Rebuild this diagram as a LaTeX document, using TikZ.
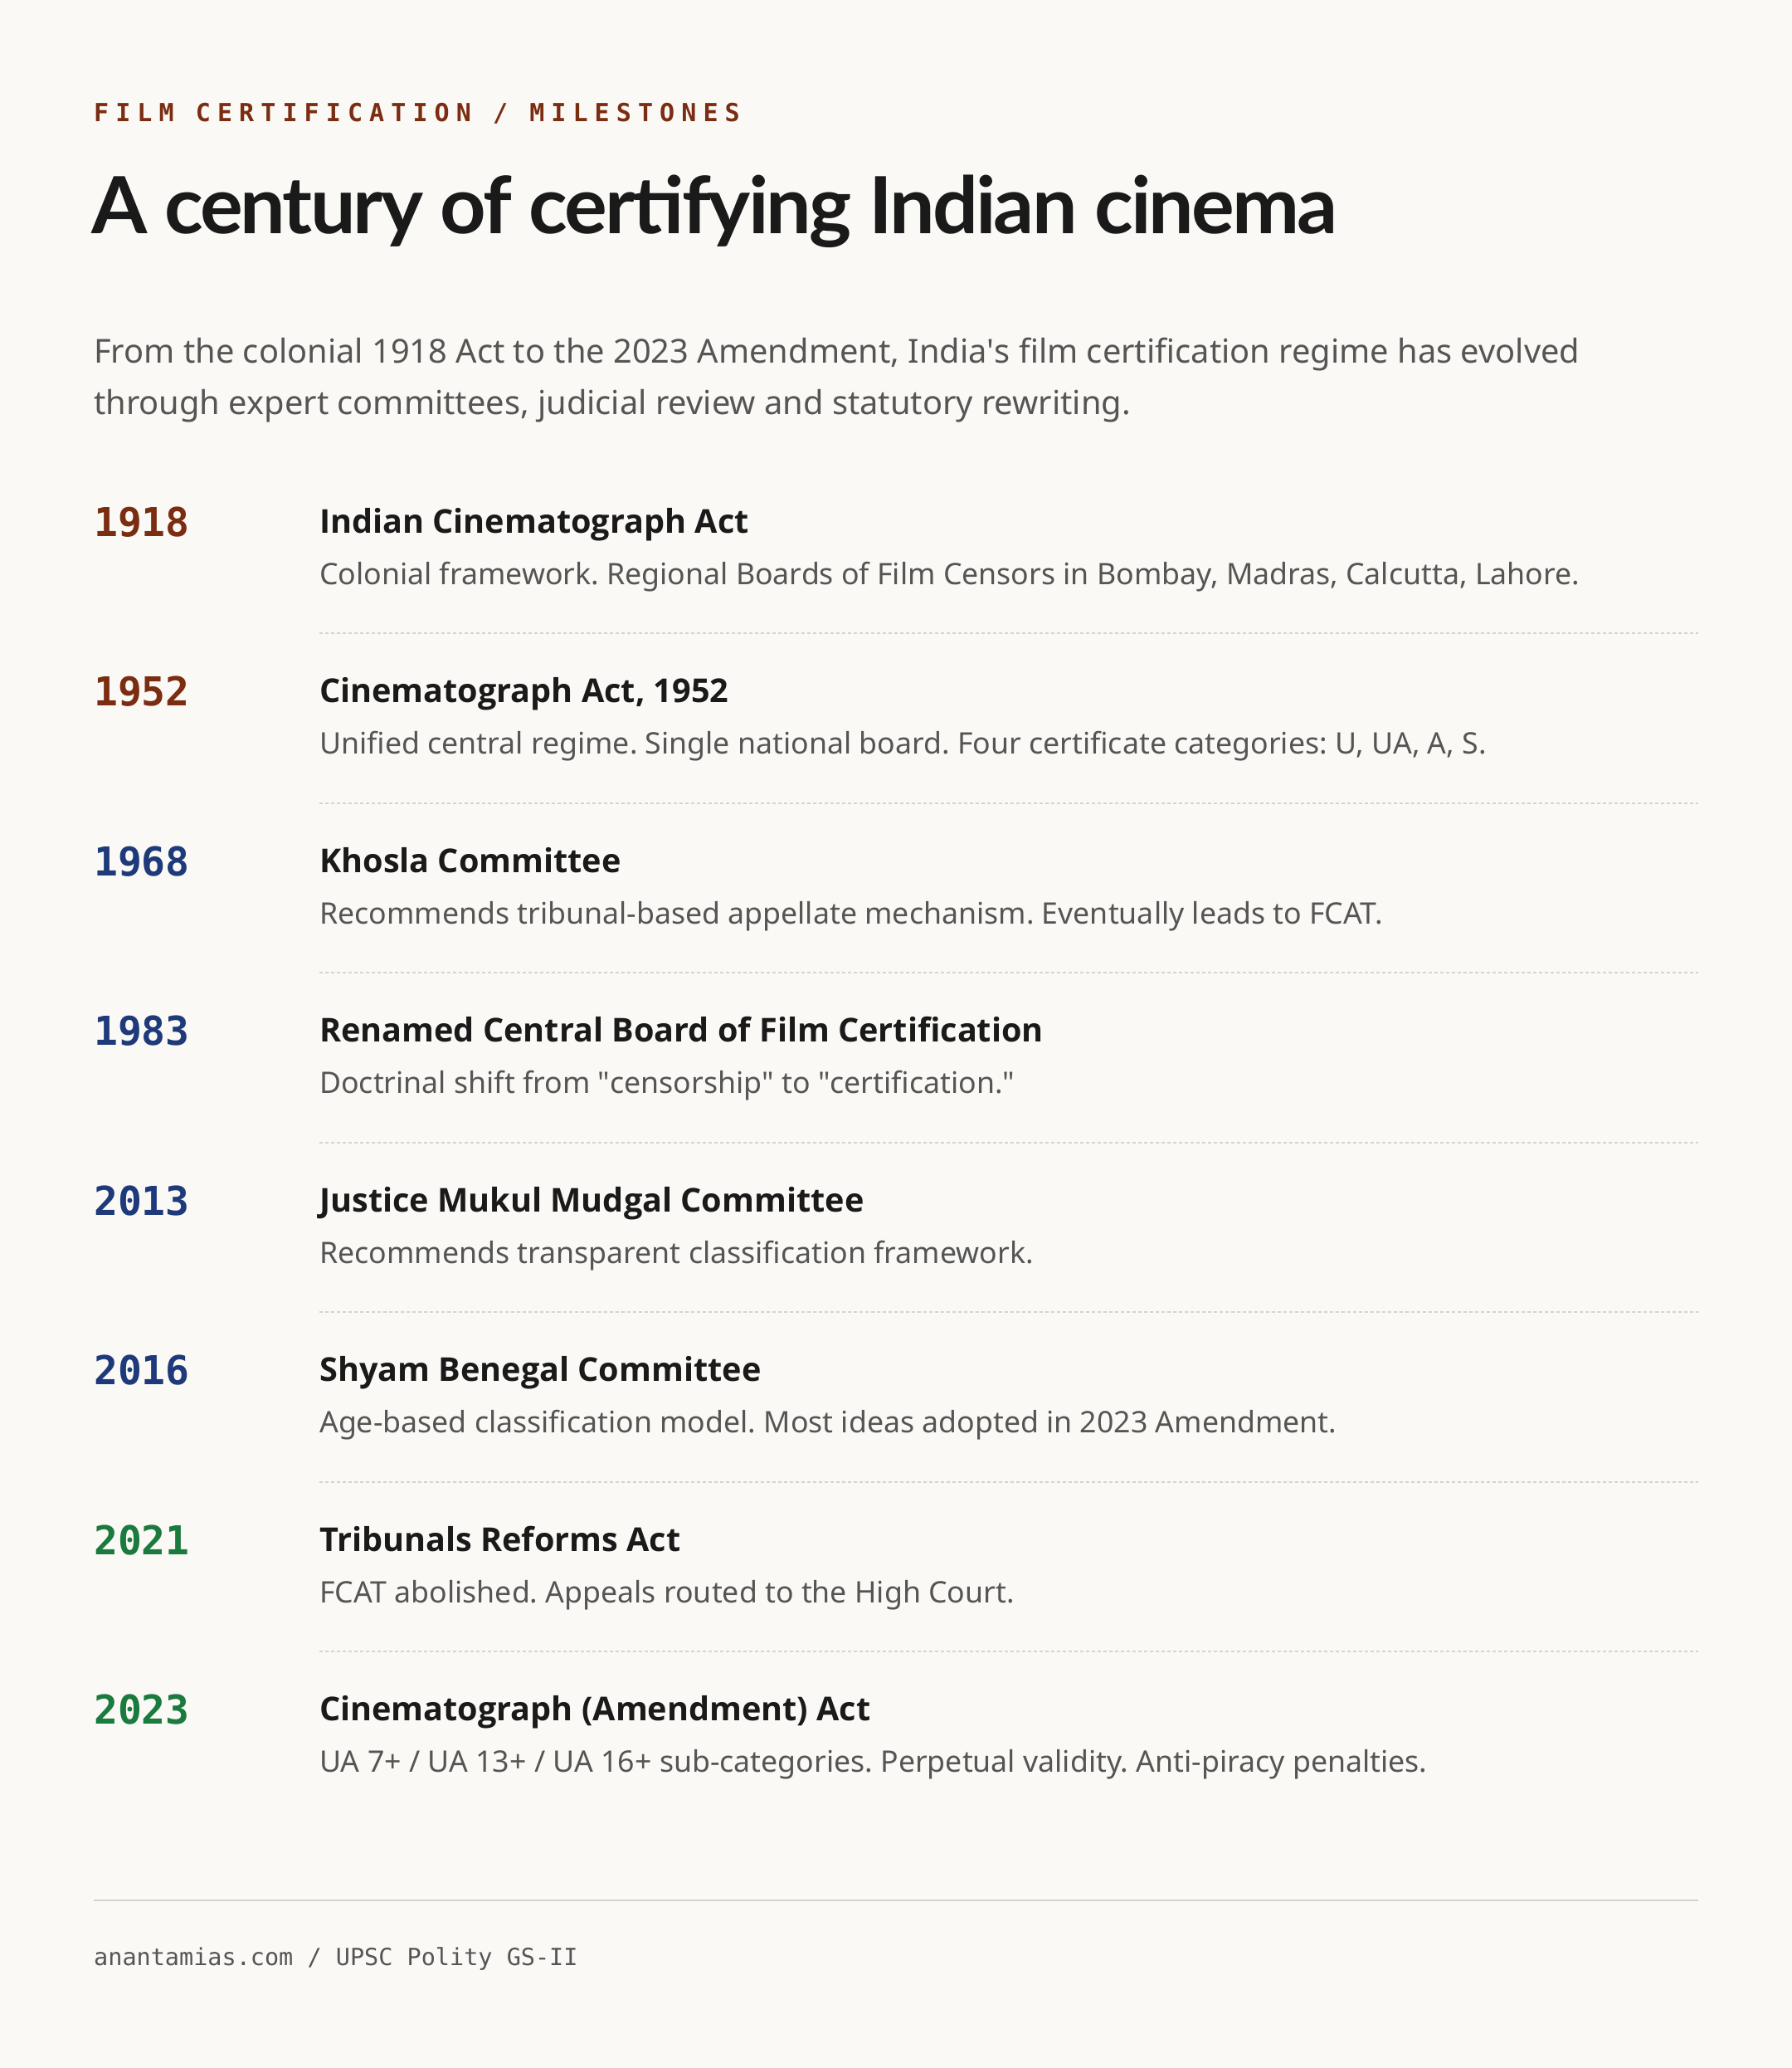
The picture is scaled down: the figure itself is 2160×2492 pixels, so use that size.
\documentclass[tikz,border=0pt]{standalone}
\usepackage{fontspec}
\setmainfont{Noto Sans}
\newfontfamily\headsans{Open Sans}
\newfontfamily\monofont{DejaVu Sans Mono}
\newfontfamily\kickerfont{DejaVu Sans Mono}[LetterSpace=27]
\newfontfamily\headfont{Lato}[LetterSpace=-3]
\usetikzlibrary{positioning}
\frenchspacing
\definecolor{paper}{HTML}{FAF9F5}
\definecolor{rust}{HTML}{7B2D12}
\definecolor{navy}{HTML}{1F3A7A}
\definecolor{leaf}{HTML}{1B7A3D}
\definecolor{ink}{HTML}{1A1A1A}
\definecolor{muted}{HTML}{555555}
\definecolor{rule}{HTML}{D6D3CC}
\tikzset{year/.style={anchor=base west,inner sep=0pt,font=\monofont\bfseries\fontsize{48}{58}\selectfont},
         head/.style={anchor=base west,inner sep=0pt,text=ink,font=\headsans\bfseries\fontsize{39.6}{46}\selectfont},
         desc/.style={anchor=base west,inner sep=0pt,text=muted,font=\fontsize{35.7}{42}\selectfont},
         divider/.style={draw=rule,line width=2pt,dash pattern=on 4pt off 3pt}
}

\begin{document}
\begin{tikzpicture}[x=1pt,y=-1pt]

\fill[paper] (0,0) rectangle (2160,2492);
\useasboundingbox (0,0) rectangle (2160,2492);

\node[anchor=base west,inner sep=0pt,text=rust,font=\kickerfont\bfseries\fontsize{30}{36}\selectfont] (kicker) at (113,146) {FILM CERTIFICATION / MILESTONES};
\node[anchor=base west,inner sep=0pt,text=ink,font=\headfont\bfseries\fontsize{95}{110}\selectfont] (title) at (110,281) {\resizebox{1502pt}{\height}{A century of certifying Indian cinema}};
\node[desc,font=\fontsize{39.8}{62}\selectfont] (lede1) at (113,437) {From the colonial 1918 Act to the 2023 Amendment, India\textquotesingle s film certification regime has evolved};
\node[desc,font=\fontsize{39.8}{62}\selectfont] (lede2) at (113,499) {through expert committees, judicial review and statutory rewriting.};

% milestones
\node[year,text=rust] (y1918) at (113,646) {1918};
\node[head] (h1918) at (385,642) {Indian Cinematograph Act};
\node[desc] (d1918) at (385,704) {Colonial framework. Regional Boards of Film Censors in Bombay, Madras, Calcutta, Lahore.};
\draw[divider] (385,763) -- (2047,763);

\node[year,text=rust] (y1952) at (113,850.5) {1952};
\node[head] (h1952) at (385,846.5) {Cinematograph Act, 1952};
\node[desc] (d1952) at (385,908.5) {Unified central regime. Single national board. Four certificate categories: U, UA, A, S.};
\draw[divider] (385,967.5) -- (2047,967.5);

\node[year,text=navy] (y1968) at (113,1055) {1968};
\node[head] (h1968) at (385,1051) {Khosla Committee};
\node[desc] (d1968) at (385,1113) {Recommends tribunal-based appellate mechanism. Eventually leads to FCAT.};
\draw[divider] (385,1172) -- (2047,1172);

\node[year,text=navy] (y1983) at (113,1259.5) {1983};
\node[head] (h1983) at (385,1255.5) {Renamed Central Board of Film Certification};
\node[desc] (d1983) at (385,1317.5) {Doctrinal shift from \textquotedbl censorship\textquotedbl{} to \textquotedbl certification.\textquotedbl};
\draw[divider] (385,1376.5) -- (2047,1376.5);

\node[year,text=navy] (y2013) at (113,1464) {2013};
\node[head] (h2013) at (385,1460) {Justice Mukul Mudgal Committee};
\node[desc] (d2013) at (385,1522) {Recommends transparent classification framework.};
\draw[divider] (385,1581) -- (2047,1581);

\node[year,text=navy] (y2016) at (113,1668.5) {2016};
\node[head] (h2016) at (385,1664.5) {Shyam Benegal Committee};
\node[desc] (d2016) at (385,1726.5) {Age-based classification model. Most ideas adopted in 2023 Amendment.};
\draw[divider] (385,1785.5) -- (2047,1785.5);

\node[year,text=leaf] (y2021) at (113,1873) {2021};
\node[head] (h2021) at (385,1869) {Tribunals Reforms Act};
\node[desc] (d2021) at (385,1931) {FCAT abolished. Appeals routed to the High Court.};
\draw[divider] (385,1990) -- (2047,1990);

\node[year,text=leaf] (y2023) at (113,2077.5) {2023};
\node[head] (h2023) at (385,2073.5) {Cinematograph (Amendment) Act};
\node[desc] (d2023) at (385,2135.5) {UA 7+ / UA 13+ / UA 16+ sub-categories. Perpetual validity. Anti-piracy penalties.};

% footer
\draw[rule,line width=2pt] (113,2290) -- (2047,2290);
\node[anchor=base west,inner sep=0pt,text=muted,font=\monofont\fontsize{28.5}{34}\selectfont] (credit) at (113,2368) {anantamias.com / UPSC Polity GS-II};

\end{tikzpicture}
\end{document}
